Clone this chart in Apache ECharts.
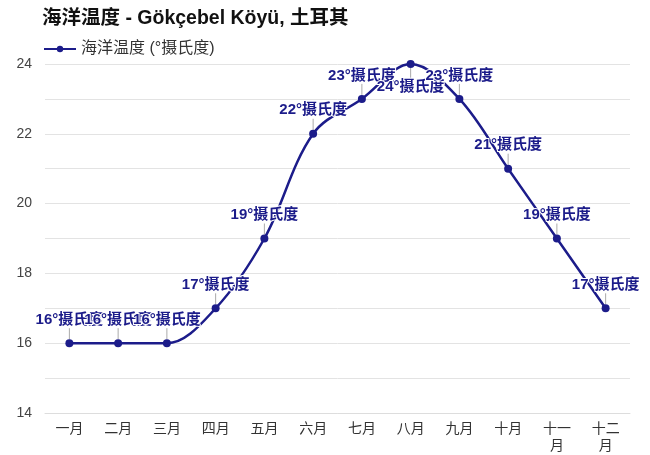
<!DOCTYPE html>
<html><head><meta charset="utf-8">
<script src="https://cdn.jsdelivr.net/npm/echarts@6/dist/echarts.min.js"></script>
<style>html,body{margin:0;padding:0;background:#fff}#c{width:650px;height:455px}</style>
</head><body><div id="c"></div>
<script>
const titleText = '海洋温度 - Gökçebel Köyü, 土耳其';
const seriesName = '海洋温度 (°摄氏度)';
const categories = ['一月','二月','三月','四月','五月','六月','七月','八月','九月','十月','十一月','十二月'];
const values = [16,16,16,17,19,22,23,24,23,21,19,17];
const unit = '°摄氏度';
const yTicks = [14,16,18,20,22,24];

const font = '"Liberation Sans","Noto Sans CJK SC",sans-serif';
const navy = '#1c1c8a';
const chart = echarts.init(document.getElementById('c'));
const data = values.map((v,i)=>({value:v}));
chart.setOption({
  animation:false,
  title:{text:titleText,left:37,top:4,textStyle:{fontFamily:font,fontSize:19.5,fontWeight:'bold',color:'#111'}},
  legend:{left:38,top:36,itemWidth:32,itemHeight:8,itemGap:6,textStyle:{fontFamily:font,fontSize:16,color:'#333'},data:[seriesName]},
  grid:{left:45,right:20,top:64,bottom:42},
  xAxis:{type:'category',data:categories,boundaryGap:true,
    axisLine:{show:true,lineStyle:{color:'#ddd'}},axisTick:{show:false},
    axisLabel:{interval:0,fontFamily:font,fontSize:14,color:'#333',width:30,overflow:'break',margin:8,lineHeight:17}},
  yAxis:{type:'value',min:14,max:24,interval:1,
    axisLine:{show:false},axisTick:{show:false},
    splitLine:{lineStyle:{color:'#e3e3e3'}},
    axisLabel:{fontFamily:font,fontSize:14,color:'#444',margin:13,
      formatter:v=>yTicks.includes(v)?String(v):''}},
  series:[{name:seriesName,type:'line',data:data,smooth:0.35,
    symbol:'circle',symbolSize:8,
    lineStyle:{color:navy,width:2.5},itemStyle:{color:navy},
    label:{show:true,position:'top',distance:4,fontFamily:font,fontSize:15,fontWeight:'bold',color:navy,
      textBorderColor:'#fff',textBorderWidth:2,formatter:p=>p.value+unit},
    labelLayout:p=>p.dataIndex===7?{dy:38}:{dy:-8},
    labelLine:{show:true,lineStyle:{color:'#aaa',width:1}}
  }]
});
</script></body></html>
